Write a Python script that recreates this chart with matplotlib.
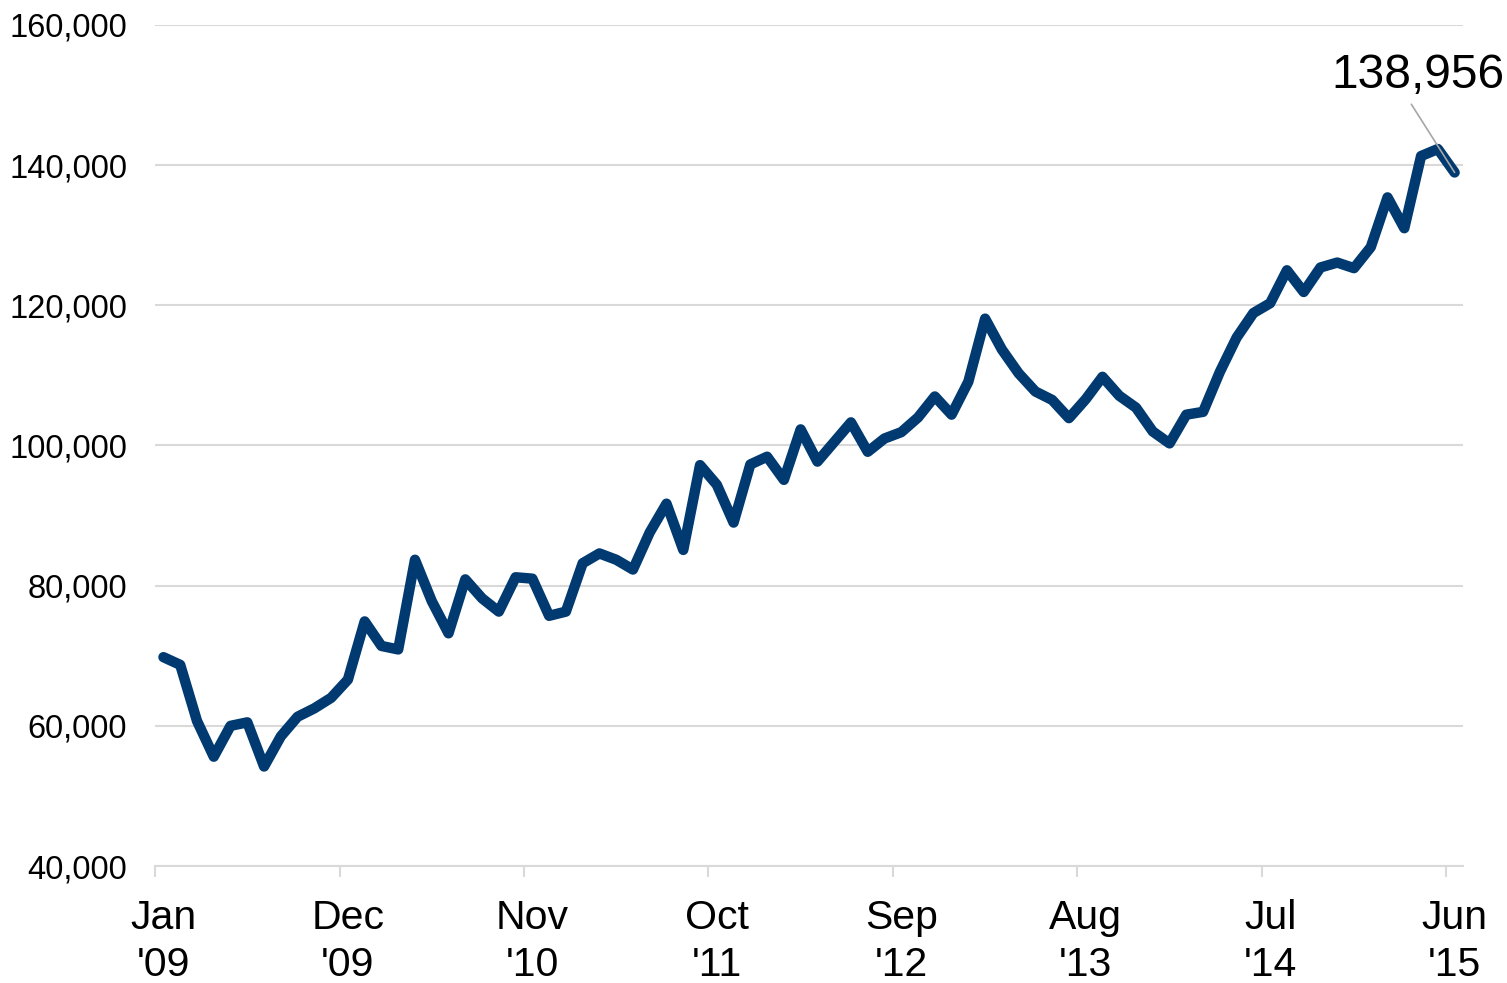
import matplotlib
matplotlib.use("Agg")
import matplotlib.pyplot as plt
from matplotlib.ticker import FuncFormatter

plt.rcParams['font.family'] = ['Liberation Sans', 'DejaVu Sans']

# Monthly values, Jan 2009 .. Jun 2015 (thousands)
values_k = [
    69.8, 68.7, 60.7, 55.6, 60.0, 60.5, 54.2, 58.5, 61.3, 62.5,
    64.0, 66.6, 74.9, 71.4, 70.9, 83.7, 77.8, 73.2, 80.9, 78.2,
    76.3, 81.2, 81.0, 75.7, 76.3, 83.2, 84.6, 83.7, 82.3, 87.6,
    91.7, 85.1, 97.2, 94.4, 89.0, 97.3, 98.4, 95.1, 102.3, 97.7,
    100.5, 103.3, 99.1, 101.0, 101.9, 104.0, 107.0, 104.4, 109.1, 118.1,
    113.7, 110.3, 107.7, 106.5, 103.9, 106.6, 109.8, 107.1, 105.4, 102.0,
    100.3, 104.4, 104.8, 110.5, 115.4, 118.9, 120.3, 125.0, 121.9, 125.4,
    126.1, 125.3, 128.3, 135.4, 131.0, 141.3, 142.3, 138.956,
]
values = [v * 1000 for v in values_k]

tick_labels = ["Jan\n'09", "Dec\n'09", "Nov\n'10", "Oct\n'11", "Sep\n'12",
               "Aug\n'13", "Jul\n'14", "Jun\n'15"]
tick_index = [0, 11, 22, 33, 44, 55, 66, 77]
last_label = "138,956"

line_color = '#003A70'
grid_color = '#D9D9D9'

fig = plt.figure(figsize=(15.07, 9.83), dpi=100)
ax = fig.add_axes([0.1029, 0.1190, 0.9708 - 0.1029, 0.9746 - 0.1190])

x = [i + 0.5 for i in range(len(values))]
ax.plot(x, values, color=line_color, lw=7.5, solid_capstyle='round',
        solid_joinstyle='round', zorder=3)

ax.set_xlim(0, len(values))
ax.set_ylim(40000, 160000)
ax.set_yticks(range(40000, 160001, 20000))
ax.yaxis.set_major_formatter(FuncFormatter(lambda v, p: f"{int(v):,}"))
ax.tick_params(axis='y', length=0, labelsize=23.5, pad=20, colors='black')
ax.grid(axis='y', color=grid_color, lw=1.5, zorder=0)

# tick marks at category boundaries, labels at category centres
ax.set_xticks(tick_index)
ax.set_xticklabels([])
ax.tick_params(axis='x', which='major', length=8, width=1.5, color=grid_color)
ax.set_xticks([i + 0.5 for i in tick_index], minor=True)
ax.set_xticklabels(tick_labels, minor=True, fontsize=29.5, linespacing=1.3)
ax.tick_params(axis='x', which='minor', length=0, pad=24)

for s in ['top', 'right', 'left']:
    ax.spines[s].set_visible(False)
ax.spines['bottom'].set_color(grid_color)
ax.spines['bottom'].set_linewidth(1.5)

ax.annotate(last_label, xy=(x[-1], values[-1]), xytext=(75.3, 152800),
            ha='center', va='center', fontsize=34.5, color='black',
            arrowprops=dict(arrowstyle='-', color='#A6A6A6', lw=1.2,
                            relpos=(0.44, 0.0), shrinkA=3, shrinkB=0),
            zorder=5, annotation_clip=False)

fig.savefig('out.png', dpi=100)
